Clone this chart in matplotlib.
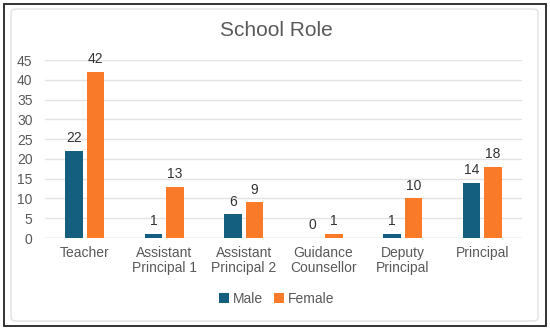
import matplotlib.pyplot as plt
from matplotlib.patches import Rectangle, FancyBboxPatch
import numpy as np

# chart data
roles = ["Teacher", "Assistant\nPrincipal 1", "Assistant\nPrincipal 2",
         "Guidance\nCounsellor", "Deputy\nPrincipal", "Principal"]
male = [22, 1, 6, 0, 1, 14]
female = [42, 13, 9, 1, 10, 18]
series_names = ["Male", "Female"]
yticks = [0, 5, 10, 15, 20, 25, 30, 35, 40, 45]

male_color = "#145E80"
female_color = "#F97A28"
text_color = "#595959"

plt.rcParams['font.family'] = ['Liberation Sans', 'DejaVu Sans']

fig = plt.figure(figsize=(5.5, 3.3), dpi=100)

# outer frame and inner rounded box
fig.patches.append(Rectangle((4 / 550, 4 / 330), 542 / 550, 322 / 330,
                             transform=fig.transFigure, fill=False,
                             edgecolor="#222222", linewidth=1.3))
fig.patches.append(FancyBboxPatch((11 / 550, 9 / 330), 527 / 550, 312 / 330,
                                  boxstyle="round,pad=0,rounding_size=0.01",
                                  transform=fig.transFigure, fill=False,
                                  edgecolor="#E2E2E2", linewidth=1.0))

ax = fig.add_axes([45 / 550, (330 - 238) / 330, 477 / 550, 178 / 330])

x = np.arange(len(roles))
w = 0.22
gap = 0.025
b1 = ax.bar(x - w / 2 - gap, male, w, color=male_color, label=series_names[0], zorder=3)
b2 = ax.bar(x + w / 2 + gap, female, w, color=female_color, label=series_names[1], zorder=3)

for bars in (b1, b2):
    for rect in bars:
        h = rect.get_height()
        ax.annotate(f"{h:.0f}", (rect.get_x() + rect.get_width() / 2, h),
                    xytext=(0, 4), textcoords="offset points",
                    ha="center", va="bottom", fontsize=10, color="#333333")

ax.set_xlim(-0.5, len(roles) - 0.5)
ax.set_ylim(0, 45)
ax.set_yticks(yticks)
ax.set_xticks(x)
ax.set_xticklabels(roles, fontsize=10, color=text_color, linespacing=1.1)
ax.tick_params(axis="y", labelsize=10, labelcolor=text_color, length=0, pad=9)
ax.tick_params(axis="x", length=0, pad=6)
ax.grid(axis="y", color="#E3E3E3", linewidth=1.0, zorder=0)
for s in ax.spines.values():
    s.set_visible(False)
ax.axhline(0, color="#D9D9D9", linewidth=1.0, zorder=2)

fig.text(276 / 550, 1 - 30 / 330, "School Role", ha="center", va="center",
         fontsize=15, color=text_color)

fig.legend(loc="center", bbox_to_anchor=(277 / 550, 1 - 299 / 330), ncol=2,
           frameon=False, fontsize=10, handlelength=0.7, handleheight=0.7,
           handletextpad=0.3, columnspacing=0.8, labelcolor=text_color)

fig.savefig("out.png", dpi=100)
